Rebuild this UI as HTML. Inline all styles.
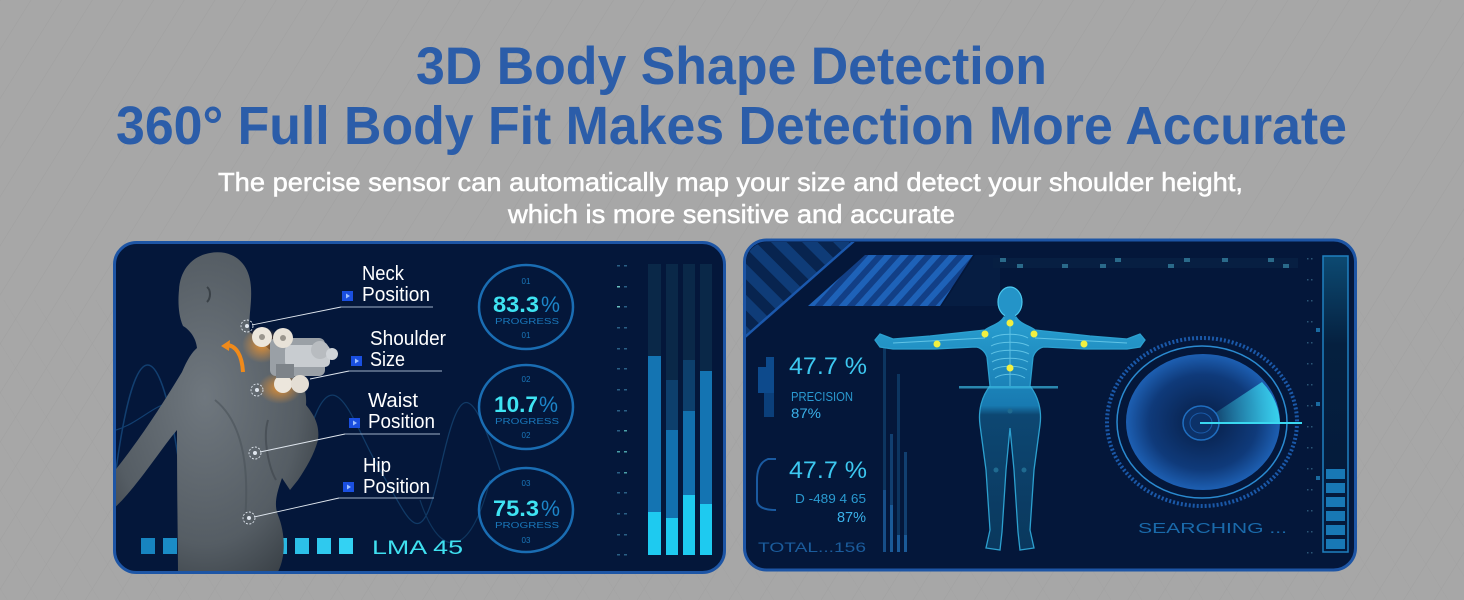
<!DOCTYPE html>
<html><head><meta charset="utf-8">
<style>
html,body{margin:0;padding:0;background:#a7a7a7;}
svg{display:block;}
text{font-family:"Liberation Sans",sans-serif;}
</style></head><body>
<svg width="1464" height="600" viewBox="0 0 1464 600" xmlns="http://www.w3.org/2000/svg">
<defs>
<pattern id="bgp" width="26" height="26" patternUnits="userSpaceOnUse" patternTransform="rotate(32)">
<line x1="0" y1="0" x2="0" y2="26" stroke="#9b9b9b" stroke-width="1.2"/>
</pattern>
<pattern id="bgp2" width="26" height="26" patternUnits="userSpaceOnUse" patternTransform="rotate(-32)">
<line x1="0" y1="0" x2="0" y2="26" stroke="#9d9d9d" stroke-width="1"/>
</pattern>
<clipPath id="clipL"><rect x="116" y="244" width="607" height="327" rx="21"/></clipPath>
<clipPath id="clipR"><rect x="746" y="242" width="608" height="327" rx="21"/></clipPath>
<radialGradient id="skin" cx="0.45" cy="0.45" r="0.65">
<stop offset="0" stop-color="#6f777e"/><stop offset="0.7" stop-color="#555d64"/><stop offset="1" stop-color="#3a4147"/>
</radialGradient>
<radialGradient id="disk" cx="0.5" cy="0.5" r="0.5">
<stop offset="0" stop-color="#071d44"/><stop offset="0.7" stop-color="#0f3a7a"/><stop offset="1" stop-color="#1d5fb2"/>
</radialGradient>
<linearGradient id="sweep" x1="0" y1="0" x2="1" y2="0">
<stop offset="0" stop-color="#3ad8f0" stop-opacity="0"/><stop offset="1" stop-color="#3ad8f0" stop-opacity="0.95"/>
</linearGradient>
<linearGradient id="tallbar" x1="0" y1="0" x2="0" y2="1">
<stop offset="0" stop-color="#0c4a72"/><stop offset="0.3" stop-color="#05203f"/><stop offset="1" stop-color="#04183a"/>
</linearGradient>
<linearGradient id="bodyg" x1="0" y1="0" x2="0" y2="1">
<stop offset="0" stop-color="#2aa6d8"/><stop offset="0.38" stop-color="#1a80b8"/><stop offset="0.42" stop-color="#0e4a75"/><stop offset="1" stop-color="#0b3a60"/>
</linearGradient>
<pattern id="stripeA" width="12" height="12" patternUnits="userSpaceOnUse" patternTransform="rotate(42)">
<rect width="12" height="12" fill="#123f86"/><rect width="6" height="12" fill="#1e62b8"/>
</pattern>
<pattern id="stripeB" width="22" height="22" patternUnits="userSpaceOnUse" patternTransform="rotate(-45)">
<rect width="22" height="22" fill="#08244f"/><rect width="11" height="22" fill="#0f3c78"/>
</pattern>
<radialGradient id="glow" cx="0.5" cy="0.5" r="0.5">
<stop offset="0" stop-color="#ff9a2a" stop-opacity="0.8"/><stop offset="1" stop-color="#ff9a2a" stop-opacity="0"/>
</radialGradient>
</defs>

<!-- background -->
<rect width="1464" height="600" fill="#a7a7a7"/>
<rect width="1464" height="600" fill="url(#bgp)" opacity="0.55"/>
<rect width="1464" height="300" y="300" fill="url(#bgp2)" opacity="0.4"/>

<!-- titles -->
<text x="416" y="84" font-weight="bold" font-size="53" fill="#2b5da9" textLength="631" lengthAdjust="spacingAndGlyphs">3D Body Shape Detection</text>
<text x="116" y="144" font-weight="bold" font-size="54" fill="#2b5da9" textLength="1231" lengthAdjust="spacingAndGlyphs">360° Full Body Fit Makes Detection More Accurate</text>
<text x="218" y="191" font-size="26" fill="#ffffff" stroke="#ffffff" stroke-width="0.5" textLength="1025" lengthAdjust="spacingAndGlyphs">The percise sensor can automatically map your size and detect your shoulder height,</text>
<text x="508" y="223" font-size="26" fill="#ffffff" stroke="#ffffff" stroke-width="0.5" textLength="447" lengthAdjust="spacingAndGlyphs">which is more sensitive and accurate</text>

<!-- LEFT PANEL -->
<rect x="114.5" y="242.5" width="610" height="330" rx="22" fill="#04173a" stroke="#1d55a5" stroke-width="3"/>
<g clip-path="url(#clipL)">
  <!-- faint waves -->
  <path d="M116,470 C135,330 160,330 180,470 S230,610 250,470" fill="none" stroke="#123f70" stroke-width="1.5"/>
  <path d="M116,430 C150,420 170,380 200,420" fill="none" stroke="#123f70" stroke-width="1.2"/>
  <path d="M300,470 C330,330 350,420 380,470 S420,560 440,470 S470,380 500,470" fill="none" stroke="#113a66" stroke-width="1.3"/>
  <path d="M420,500 C440,560 470,560 490,480" fill="none" stroke="#0f355e" stroke-width="1.2"/>

  <!-- bottom squares -->
  <rect x="141" y="538" width="14" height="16" fill="#1784c0"/>
  <rect x="163" y="538" width="14" height="16" fill="#1a8cc6"/>
  <rect x="185" y="538" width="14" height="16" fill="#1d95cc"/>
  <rect x="207" y="538" width="14" height="16" fill="#209dd2"/>
  <rect x="229" y="538" width="14" height="16" fill="#23a6d8"/>
  <rect x="251" y="538" width="14" height="16" fill="#26aedd"/>
  <rect x="273" y="538" width="14" height="16" fill="#29b7e2"/>
  <rect x="295" y="538" width="14" height="16" fill="#2cc0e8"/>
  <rect x="317" y="538" width="14" height="16" fill="#2fc9ee"/>
  <rect x="339" y="538" width="14" height="16" fill="#33d2f3"/>
  <text x="372" y="554" font-size="19" fill="#3fe0f0" textLength="91" lengthAdjust="spacingAndGlyphs">LMA 45</text>

  <!-- man figure -->
  <path d="M210,253 C232,249 250,262 251,288 C252,305 248,318 250,332 C262,345 278,355 292,368 C303,380 307,392 306,405 C314,415 320,425 318,440 C314,455 306,468 298,480 L290,490 L282,478 C276,495 274,505 278,515 C286,535 286,560 276,575 L178,575 C178,545 177,500 177,430 C160,450 135,490 112,510 L112,474 C140,440 165,400 182,372 C187,360 192,352 197,348 C196,338 190,330 183,326 C178,315 178,300 179,290 C180,270 192,256 210,253 Z" fill="url(#skin)"/>
  <path d="M207,287 C211,290 211,298 207,302" fill="none" stroke="#3a4147" stroke-width="2"/>
  <path d="M215,400 C240,420 250,460 245,520" fill="none" stroke="#4a5258" stroke-width="2" opacity="0.6"/>
  <path d="M276,480 C270,470 262,440 268,420" fill="none" stroke="#3e454b" stroke-width="2" opacity="0.6"/>
  <!-- orange arrow -->
  <path d="M226,345 C236,345 242,355 243,372" fill="none" stroke="#f08a1a" stroke-width="4"/>
  <path d="M221,346 L230,340 L229,351 Z" fill="#f08a1a"/>
  <!-- massage mechanism -->
  <ellipse cx="262" cy="345" rx="20" ry="18" fill="url(#glow)"/>
  <ellipse cx="280" cy="388" rx="22" ry="16" fill="url(#glow)"/>
  <rect x="270" y="338" width="55" height="38" rx="6" fill="#9aa0a6"/>
  <rect x="285" y="345" width="45" height="22" rx="5" fill="#c8ccd0"/>
  <circle cx="262" cy="337" r="10" fill="#ece6dc"/>
  <circle cx="283" cy="338" r="10" fill="#e8e2d8"/>
  <circle cx="320" cy="350" r="9" fill="#b8bcc0"/>
  <circle cx="332" cy="354" r="6" fill="#d0d4d8"/>
  <circle cx="283" cy="384" r="9" fill="#ece6dc"/>
  <circle cx="300" cy="384" r="9" fill="#e4ded4"/>
  <rect x="276" y="364" width="18" height="14" fill="#7d8389"/>
  <circle cx="262" cy="337" r="3" fill="#9a958d"/>
  <circle cx="283" cy="338" r="3" fill="#9a958d"/>

  <!-- target dots & leader lines -->
  <g fill="none" stroke="#dfe6ee" stroke-width="0.9">
    <line x1="252" y1="325" x2="341" y2="307"/>
    <line x1="310" y1="379" x2="349" y2="371"/>
    <line x1="260" y1="452" x2="345" y2="434"/>
    <line x1="254" y1="517" x2="339" y2="498"/>
    <line x1="341" y1="307" x2="433" y2="307" stroke="#9fb0c8"/>
    <line x1="349" y1="371" x2="442" y2="371" stroke="#9fb0c8"/>
    <line x1="345" y1="434" x2="440" y2="434" stroke="#9fb0c8"/>
    <line x1="339" y1="498" x2="434" y2="498" stroke="#9fb0c8"/>
    <circle cx="247" cy="326" r="6" stroke-dasharray="2 1.5"/>
    <circle cx="257" cy="390" r="6" stroke-dasharray="2 1.5"/>
    <circle cx="255" cy="453" r="6" stroke-dasharray="2 1.5"/>
    <circle cx="249" cy="518" r="6" stroke-dasharray="2 1.5"/>
  </g>
  <g fill="#dfe6ee">
    <circle cx="247" cy="326" r="2"/><circle cx="257" cy="390" r="2"/><circle cx="255" cy="453" r="2"/><circle cx="249" cy="518" r="2"/>
  </g>

  <!-- labels -->
  <g font-size="20" fill="#ffffff">
    <text x="362" y="280" textLength="42" lengthAdjust="spacingAndGlyphs">Neck</text>
    <text x="362" y="301" textLength="68" lengthAdjust="spacingAndGlyphs">Position</text>
    <text x="370" y="345" textLength="76" lengthAdjust="spacingAndGlyphs">Shoulder</text>
    <text x="370" y="366" textLength="35" lengthAdjust="spacingAndGlyphs">Size</text>
    <text x="368" y="407" textLength="50" lengthAdjust="spacingAndGlyphs">Waist</text>
    <text x="368" y="428" textLength="67" lengthAdjust="spacingAndGlyphs">Position</text>
    <text x="363" y="472" textLength="28" lengthAdjust="spacingAndGlyphs">Hip</text>
    <text x="363" y="493" textLength="67" lengthAdjust="spacingAndGlyphs">Position</text>
  </g>
  <g>
    <rect x="342" y="291" width="11" height="10" fill="#1a4fe0"/><path d="M346,293.5 L350,296 L346,298.5Z" fill="#9ec0ff"/>
    <rect x="351" y="356" width="11" height="10" fill="#1a4fe0"/><path d="M355,358.5 L359,361 L355,363.5Z" fill="#9ec0ff"/>
    <rect x="349" y="418" width="11" height="10" fill="#1a4fe0"/><path d="M353,420.5 L357,423 L353,425.5Z" fill="#9ec0ff"/>
    <rect x="343" y="482" width="11" height="10" fill="#1a4fe0"/><path d="M347,484.5 L351,487 L347,489.5Z" fill="#9ec0ff"/>
  </g>

  <!-- progress circles -->
  <g fill="none" stroke="#1a6db3" stroke-width="2.5">
    <ellipse cx="526" cy="307" rx="47" ry="42"/>
    <ellipse cx="526" cy="407" rx="47" ry="42"/>
    <ellipse cx="526" cy="510" rx="47" ry="42"/>
  </g>
  <g text-anchor="middle" font-size="8" fill="#1a78bb">
    <text x="526" y="284">01</text><text x="527" y="324" textLength="64" lengthAdjust="spacingAndGlyphs">PROGRESS</text><text x="526" y="338">01</text>
    <text x="526" y="382">02</text><text x="527" y="424" textLength="64" lengthAdjust="spacingAndGlyphs">PROGRESS</text><text x="526" y="438">02</text>
    <text x="526" y="486">03</text><text x="527" y="528" textLength="64" lengthAdjust="spacingAndGlyphs">PROGRESS</text><text x="526" y="543">03</text>
  </g>
  <g font-size="22" font-weight="bold" fill="#3fe3f2">
    <text x="493" y="312" textLength="46" lengthAdjust="spacingAndGlyphs">83.3</text>
    <text x="494" y="412" textLength="44" lengthAdjust="spacingAndGlyphs">10.7</text>
    <text x="493" y="516" textLength="46" lengthAdjust="spacingAndGlyphs">75.3</text>
  </g>
  <g font-size="22" fill="#1c85c8">
    <text x="541" y="312" textLength="19" lengthAdjust="spacingAndGlyphs">%</text>
    <text x="539" y="412" textLength="19" lengthAdjust="spacingAndGlyphs">%</text>
    <text x="541" y="516" textLength="19" lengthAdjust="spacingAndGlyphs">%</text>
  </g>

  <!-- dash column -->
  <g fill="#2a5f85">
    <rect x="617" y="265" width="3" height="1.5"/><rect x="624" y="265" width="3" height="1.5"/>
    <rect x="617" y="286" width="3" height="1.5" fill="#6ac0c0"/><rect x="624" y="286" width="3" height="1.5"/>
    <rect x="617" y="306" width="3" height="1.5" fill="#6ac0c0"/><rect x="624" y="306" width="3" height="1.5"/>
    <rect x="617" y="327" width="3" height="1.5"/><rect x="624" y="327" width="3" height="1.5"/>
    <rect x="617" y="348" width="3" height="1.5"/><rect x="624" y="348" width="3" height="1.5"/>
    <rect x="617" y="368" width="3" height="1.5"/><rect x="624" y="368" width="3" height="1.5"/>
    <rect x="617" y="389" width="3" height="1.5"/><rect x="624" y="389" width="3" height="1.5"/>
    <rect x="617" y="410" width="3" height="1.5"/><rect x="624" y="410" width="3" height="1.5"/>
    <rect x="617" y="430" width="3" height="1.5"/><rect x="624" y="430" width="3" height="1.5" fill="#4aa0a8"/>
    <rect x="617" y="451" width="3" height="1.5" fill="#4aa0a8"/><rect x="624" y="451" width="3" height="1.5" fill="#4aa0a8"/>
    <rect x="617" y="472" width="3" height="1.5"/><rect x="624" y="472" width="3" height="1.5" fill="#4aa0a8"/>
    <rect x="617" y="492" width="3" height="1.5"/><rect x="624" y="492" width="3" height="1.5"/>
    <rect x="617" y="513" width="3" height="1.5"/><rect x="624" y="513" width="3" height="1.5"/>
    <rect x="617" y="534" width="3" height="1.5"/><rect x="624" y="534" width="3" height="1.5"/>
    <rect x="617" y="554" width="3" height="1.5"/><rect x="624" y="554" width="3" height="1.5"/>
  </g>

  <!-- bars -->
  <g>
    <rect x="648" y="264" width="13" height="291" fill="#0a2848"/>
    <rect x="666" y="264" width="12" height="291" fill="#0a2848"/>
    <rect x="683" y="264" width="12" height="291" fill="#0a2848"/>
    <rect x="700" y="264" width="12" height="291" fill="#0a2848"/>
    <rect x="666" y="380" width="12" height="50" fill="#0d3f6c"/>
    <rect x="683" y="360" width="12" height="51" fill="#0d3f6c"/>
    <rect x="648" y="356" width="13" height="156" fill="#1474b2"/>
    <rect x="666" y="430" width="12" height="88" fill="#1270ae"/>
    <rect x="683" y="411" width="12" height="84" fill="#1270ae"/>
    <rect x="700" y="371" width="12" height="133" fill="#1474b2"/>
    <rect x="648" y="512" width="13" height="43" fill="#1ecaf0"/>
    <rect x="666" y="518" width="12" height="37" fill="#1ecaf0"/>
    <rect x="683" y="495" width="12" height="60" fill="#1ecaf0"/>
    <rect x="700" y="504" width="12" height="51" fill="#1ecaf0"/>
  </g>
</g>

<!-- RIGHT PANEL -->
<rect x="744.5" y="240" width="611" height="330" rx="22" fill="#04173a" stroke="#1d55a5" stroke-width="3"/>
<g clip-path="url(#clipR)">
  <!-- corner stripes -->
  <polygon points="744,240 853,240 745,336" fill="url(#stripeB)"/>
  <line x1="854" y1="241" x2="745" y2="337" stroke="#1b58ac" stroke-width="2.5"/>
  <polygon points="865,255 973,255 940,306 808,306" fill="url(#stripeA)"/>
  <polygon points="975,255 1000,255 1000,306 942,306" fill="#071f45" opacity="0.8"/>

  <!-- top dotted row -->
  <rect x="993" y="258" width="305" height="10" fill="#071f42"/>
  <g fill="#2a6a8a">
    <rect x="1000" y="258" width="6" height="4"/><rect x="1017" y="264" width="6" height="4"/>
    <rect x="1062" y="264" width="6" height="4"/><rect x="1100" y="264" width="6" height="4"/>
    <rect x="1115" y="258" width="6" height="4"/><rect x="1168" y="264" width="6" height="4"/>
    <rect x="1184" y="258" width="6" height="4"/><rect x="1222" y="258" width="6" height="4"/>
    <rect x="1268" y="258" width="6" height="4"/><rect x="1283" y="264" width="6" height="4"/>
  </g>

  <!-- left brackets -->
  <rect x="766" y="357" width="8" height="10" fill="#0d4a8c"/>
  <rect x="758" y="367" width="16" height="26" fill="#0d4a8c"/>
  <rect x="764" y="393" width="10" height="24" fill="#0b3f7a"/>
  <path d="M776,459 L768,459 C760,462 757,470 757,480 L757,500 C757,506 762,510 776,510" fill="none" stroke="#1a5aa0" stroke-width="2"/>

  <!-- left texts -->
  <text x="789" y="374" font-size="24" fill="#3dc8f0" textLength="78" lengthAdjust="spacingAndGlyphs">47.7 %</text>
  <text x="791" y="401" font-size="13" fill="#2a9ad0" textLength="62" lengthAdjust="spacingAndGlyphs">PRECISION</text>
  <text x="791" y="418" font-size="14" fill="#3ab0e8" textLength="30" lengthAdjust="spacingAndGlyphs">87%</text>
  <text x="789" y="478" font-size="24" fill="#3dc8f0" textLength="78" lengthAdjust="spacingAndGlyphs">47.7 %</text>
  <text x="866" y="503" text-anchor="end" font-size="13" fill="#2a9ad0" textLength="71" lengthAdjust="spacingAndGlyphs">D -489 4 65</text>
  <text x="866" y="522" text-anchor="end" font-size="15" fill="#3ab0e8" textLength="29" lengthAdjust="spacingAndGlyphs">87%</text>
  <text x="758" y="552" font-size="14" fill="#1b5c9c" textLength="108" lengthAdjust="spacingAndGlyphs">TOTAL...156</text>

  <!-- thin bars -->
  <rect x="883" y="348" width="3" height="204" fill="#0c3560"/>
  <rect x="890" y="434" width="3" height="118" fill="#113f70"/>
  <rect x="897" y="374" width="3" height="178" fill="#0c3560"/>
  <rect x="904" y="452" width="3" height="100" fill="#113f70"/>
  <rect x="883" y="490" width="3" height="62" fill="#164e88"/>
  <rect x="890" y="505" width="3" height="47" fill="#1a5a98"/>
  <rect x="897" y="535" width="3" height="17" fill="#1a5a98"/>
  <rect x="904" y="535" width="3" height="17" fill="#1a5a98"/>

  <!-- body figure -->
  <path d="M1004,317 C1000,324 990,326 985,330 L930,336 L893,339 L880,334 L875,340 L880,347 L893,349 L935,349 L975,347 C980,347 985,351 987,357 L990,386 C982,396 978,410 980,425 L986,470 L990,530 L986,548 L1000,550 L1002,532 L1006,470 L1010,428 L1014,470 L1018,532 L1020,550 L1034,548 L1030,530 L1034,470 L1040,425 C1042,410 1038,396 1030,386 L1033,357 C1035,351 1040,347 1045,347 L1085,349 L1127,349 L1140,347 L1145,340 L1140,334 L1127,339 L1090,336 L1035,330 C1030,326 1020,324 1016,317 Z" fill="url(#bodyg)" stroke="#2fa8d8" stroke-width="1.3" opacity="0.95"/>
  <ellipse cx="1010" cy="302" rx="12" ry="15" fill="#2494c8" stroke="#4cc8ee" stroke-width="1.2"/>
  <rect x="1005" y="314" width="10" height="6" fill="#2494c8"/>
  <!-- ribs / spine -->
  <g fill="none" stroke="#7ad8f4" stroke-width="0.9" opacity="0.7">
    <line x1="1010" y1="322" x2="1010" y2="386"/>
    <path d="M992,338 C1000,333 1020,333 1028,338"/>
    <path d="M991,346 C1000,341 1020,341 1029,346"/>
    <path d="M991,354 C1000,349 1020,349 1029,354"/>
    <path d="M992,362 C1000,357 1020,357 1028,362"/>
    <path d="M993,370 C1000,365 1020,365 1027,370"/>
    <path d="M995,378 C1002,373 1018,373 1025,378"/>
    <path d="M893,343 L985,338"/><path d="M1127,343 L1035,338"/>
  </g>
  <rect x="959" y="386" width="99" height="2.5" fill="#3ab8e0" opacity="0.7"/>
  <circle cx="1010" cy="411" r="2.5" fill="#1f6a90"/>
  <circle cx="996" cy="470" r="2.5" fill="#1f6a90"/>
  <circle cx="1024" cy="470" r="2.5" fill="#1f6a90"/>
  <g fill="#f2f040">
    <circle cx="1010" cy="323" r="3.5"/>
    <circle cx="985" cy="334" r="3.5"/>
    <circle cx="1034" cy="334" r="3.5"/>
    <circle cx="937" cy="344" r="3.5"/>
    <circle cx="1084" cy="344" r="3.5"/>
    <circle cx="1010" cy="368" r="3.5"/>
  </g>

  <!-- radar -->
  <ellipse cx="1202" cy="422" rx="95" ry="84" fill="none" stroke="#1a58a8" stroke-width="4" stroke-dasharray="2 2"/>
  <ellipse cx="1202" cy="422" rx="85" ry="76" fill="none" stroke="#2a8ad0" stroke-width="1.5"/>
  <ellipse cx="1203" cy="422" rx="77" ry="68" fill="url(#disk)"/>
  <path d="M1200,423 L1280,423 A77,68 0 0 0 1262,382 Z" fill="url(#sweep)"/>
  <ellipse cx="1201" cy="423" rx="18" ry="17" fill="#0c3168" stroke="#1f6ec0" stroke-width="1.5"/>
  <ellipse cx="1201" cy="423" rx="11" ry="10" fill="none" stroke="#1a5aa8" stroke-width="1"/>
  <line x1="1200" y1="423" x2="1302" y2="423" stroke="#3ad8f0" stroke-width="2"/>
  <text x="1138" y="533" font-size="15" fill="#1a6aaa" textLength="149" lengthAdjust="spacingAndGlyphs">SEARCHING ...</text>

  <!-- dotted column -->
  <g fill="#2a5575">
    <rect x="1307" y="258" width="1.5" height="1.5"/><rect x="1311" y="258" width="1.5" height="1.5"/>
    <rect x="1307" y="279" width="1.5" height="1.5"/><rect x="1311" y="279" width="1.5" height="1.5"/>
    <rect x="1307" y="300" width="1.5" height="1.5"/><rect x="1311" y="300" width="1.5" height="1.5"/>
    <rect x="1307" y="321" width="1.5" height="1.5"/><rect x="1311" y="321" width="1.5" height="1.5"/>
    <rect x="1307" y="342" width="1.5" height="1.5"/><rect x="1311" y="342" width="1.5" height="1.5"/>
    <rect x="1307" y="363" width="1.5" height="1.5"/><rect x="1311" y="363" width="1.5" height="1.5"/>
    <rect x="1307" y="384" width="1.5" height="1.5"/><rect x="1311" y="384" width="1.5" height="1.5"/>
    <rect x="1307" y="405" width="1.5" height="1.5"/><rect x="1311" y="405" width="1.5" height="1.5"/>
    <rect x="1307" y="426" width="1.5" height="1.5"/><rect x="1311" y="426" width="1.5" height="1.5"/>
    <rect x="1307" y="447" width="1.5" height="1.5"/><rect x="1311" y="447" width="1.5" height="1.5"/>
    <rect x="1307" y="468" width="1.5" height="1.5"/><rect x="1311" y="468" width="1.5" height="1.5"/>
    <rect x="1307" y="489" width="1.5" height="1.5"/><rect x="1311" y="489" width="1.5" height="1.5"/>
    <rect x="1307" y="510" width="1.5" height="1.5"/><rect x="1311" y="510" width="1.5" height="1.5"/>
    <rect x="1307" y="531" width="1.5" height="1.5"/><rect x="1311" y="531" width="1.5" height="1.5"/>
    <rect x="1307" y="552" width="1.5" height="1.5"/><rect x="1311" y="552" width="1.5" height="1.5"/>
  </g>
  <g fill="#1a6aa0">
    <rect x="1316" y="328" width="4" height="4"/><rect x="1316" y="402" width="4" height="4"/><rect x="1316" y="476" width="4" height="4"/>
  </g>

  <!-- tall bar -->
  <rect x="1323" y="256" width="25" height="296" fill="url(#tallbar)" stroke="#1f80c0" stroke-width="1.5"/>
  <g fill="#1878b5">
    <rect x="1326" y="469" width="19" height="10"/>
    <rect x="1326" y="483" width="19" height="10"/>
    <rect x="1326" y="497" width="19" height="10"/>
    <rect x="1326" y="511" width="19" height="10"/>
    <rect x="1326" y="525" width="19" height="10"/>
    <rect x="1326" y="539" width="19" height="10"/>
  </g>
</g>
</svg>
</body></html>
